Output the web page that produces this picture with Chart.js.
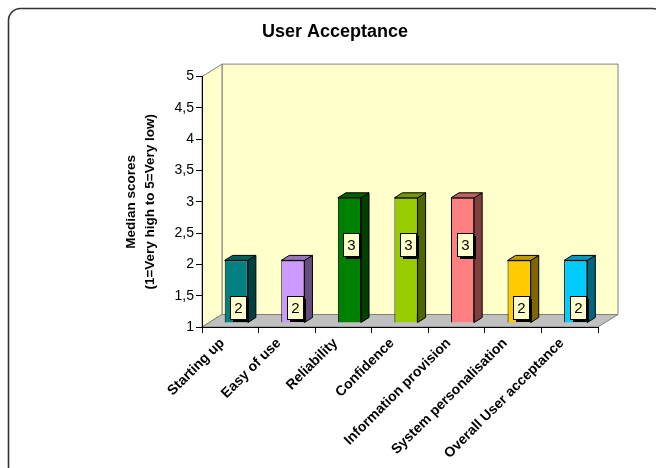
<!DOCTYPE html>
<html><head><meta charset="utf-8">
<script src="https://cdn.jsdelivr.net/npm/chart.js@4.4.0/dist/chart.umd.min.js"></script>
<style>html,body{margin:0;padding:0;background:#fff;} #wrap{width:656px;height:468px;position:relative;}</style>
</head><body><div id="wrap"><canvas id="c" width="656" height="468"></canvas></div>
<script>
// ---- data ----
const categories = ['Starting up','Easy of use','Reliability','Confidence','Information provision','System personalisation','Overall User acceptance'];
const medianScores = [2,2,3,3,3,2,2];
const yTickValues = [1,1.5,2,2.5,3,3.5,4,4.5,5];
const barColors = ['#008080','#CC99FF','#008000','#99CC00','#FF8080','#FFCC00','#00CCFF'];
const chartTitle = 'User Acceptance';
const yTitle = ['Median scores','(1=Very high to 5=Very low)'];

// ---- style ----
const FONT = "'Liberation Sans', Arial, sans-serif";
const WALL = {dx:20, dy:-12.5};
const BAR = {fx:6, fy:-4, dx:8, dy:-5};
function shade(hex, f){
  const n = parseInt(hex.slice(1),16);
  const r = Math.round(((n>>16)&255)*f), g = Math.round(((n>>8)&255)*f), b = Math.round((n&255)*f);
  return `rgb(${r},${g},${b})`;
}
function poly(ctx, pts){
  ctx.beginPath(); ctx.moveTo(pts[0][0], pts[0][1]);
  for (let i=1;i<pts.length;i++) ctx.lineTo(pts[i][0], pts[i][1]);
  ctx.closePath();
}
function rrect(ctx,x,y,w,h,r){
  ctx.beginPath();
  ctx.moveTo(x+r,y); ctx.lineTo(x+w-r,y); ctx.arcTo(x+w,y,x+w,y+r,r);
  ctx.lineTo(x+w,y+h-r); ctx.arcTo(x+w,y+h,x+w-r,y+h,r);
  ctx.lineTo(x+r,y+h); ctx.arcTo(x,y+h,x,y+h-r,r);
  ctx.lineTo(x,y+r); ctx.arcTo(x,y,x+r,y,r); ctx.closePath();
}

const threeD = {
  id:'threeD',
  beforeDraw(chart){
    const {ctx} = chart; const {left:L,right:R,top:T,bottom:B} = chart.chartArea;
    const dx = WALL.dx, dy = WALL.dy;
    ctx.save();
    ctx.strokeStyle = '#333'; ctx.lineWidth = 1.6;
    rrect(ctx, 8.5, 8.5, 656, 470, 12); ctx.stroke();
    ctx.lineWidth = 1; ctx.strokeStyle = '#808080'; ctx.fillStyle = '#FFFFCC';
    // back wall
    ctx.beginPath(); ctx.rect(L+dx, T+dy, R-L, B-T); ctx.fill(); ctx.stroke();
    // left side wall
    poly(ctx, [[L,B],[L,T],[L+dx,T+dy],[L+dx,B+dy]]); ctx.fill(); ctx.stroke();
    // floor
    ctx.fillStyle = '#C0C0C0';
    poly(ctx, [[L,B],[R,B],[R+dx,B+dy],[L+dx,B+dy]]); ctx.fill(); ctx.stroke();
    ctx.restore();
  },
  beforeDatasetsDraw(chart){ chart.ctx.save(); chart.ctx.translate(BAR.fx, BAR.fy); },
  afterDatasetsDraw(chart){
    const ctx = chart.ctx; ctx.restore();
    const meta = chart.getDatasetMeta(0);
    const ys = chart.scales.y;
    ctx.save();
    ctx.lineWidth = 1; ctx.strokeStyle = '#000';
    meta.data.forEach((el, i) => {
      const p = el.getProps(['x','y','base','width'], true);
      const l = p.x - p.width/2 + BAR.fx, r = p.x + p.width/2 + BAR.fx;
      const t = p.y + BAR.fy, b = p.base + BAR.fy;
      const c = barColors[i];
      ctx.fillStyle = shade(c, 0.5);
      poly(ctx, [[r,t],[r+BAR.dx,t+BAR.dy],[r+BAR.dx,b+BAR.dy],[r,b]]); ctx.fill(); ctx.stroke();
      ctx.fillStyle = shade(c, 0.75);
      poly(ctx, [[l,t],[l+BAR.dx,t+BAR.dy],[r+BAR.dx,t+BAR.dy],[r,t]]); ctx.fill(); ctx.stroke();
    });
    // data labels
    ctx.font = `15px ${FONT}`; ctx.textAlign = 'center'; ctx.textBaseline = 'middle';
    meta.data.forEach((el, i) => {
      const v = medianScores[i];
      const cx = el.x + BAR.fx + 2;
      const cy = ys.getPixelForValue(v - 0.75) + BAR.fy;
      const w = 16, h = 23;
      const x0 = Math.round(cx - w/2), y0 = Math.round(cy - h/2);
      ctx.fillStyle = '#000';
      ctx.fillRect(x0 + 3, y0 + 3, w, h);
      ctx.fillStyle = '#FFFFCC';
      ctx.fillRect(x0, y0, w, h);
      ctx.strokeStyle = '#000'; ctx.lineWidth = 1;
      ctx.strokeRect(x0 + 0.5, y0 + 0.5, w, h);
      ctx.fillStyle = '#000';
      ctx.fillText(String(v), x0 + w/2 + 0.5, y0 + h/2 + 1);
    });
    ctx.restore();
  }
};

new Chart(document.getElementById('c'), {
  type:'bar',
  data:{ labels: categories, datasets:[{
    data: medianScores,
    base: yTickValues[0],
    backgroundColor: barColors,
    borderColor:'#000', borderWidth:1,
    barPercentage:0.41, categoryPercentage:1
  }]},
  options:{
    responsive:false, animation:false,
    layout:{ padding:{ left:72, right:58, top:0, bottom:0 } },
    plugins:{
      legend:{display:false}, tooltip:{enabled:false},
      title:{ display:true, text:chartTitle, color:'#000',
        font:{ family:FONT, size:18, weight:'bold', lineHeight:1.2 },
        padding:{ top:21, bottom:34 } }
    },
    scales:{
      x:{
        ticks:{ minRotation:45, maxRotation:45, autoSkip:false, color:'#000', padding:2, labelOffset:-8,
          font:{ family:FONT, size:14, weight:'bold' } },
        grid:{ offset:true, drawOnChartArea:false, drawTicks:true, tickLength:6, color:'#000' },
        border:{ display:true, color:'#000', width:1 },
        afterFit: s => { s.height = 141; }
      },
      y:{
        min:1, max:5,
        afterBuildTicks: s => { s.ticks = yTickValues.map(v => ({value:v})); },
        ticks:{ color:'#000', padding:2, font:{ family:FONT, size:14 },
          callback: v => String(v).replace('.', ',') },
        grid:{ drawOnChartArea:false, drawTicks:true, tickLength:6, color:'#000' },
        border:{ display:true, color:'#000', width:1 },
        title:{ display:true, text:yTitle, color:'#000',
          font:{ family:FONT, size:13.5, weight:'bold', lineHeight:1.41 },
          padding:{ top:50, bottom:0 } },
        afterFit: s => { s.width = 130; }
      }
    }
  },
  plugins:[threeD]
});
</script>
</body></html>
